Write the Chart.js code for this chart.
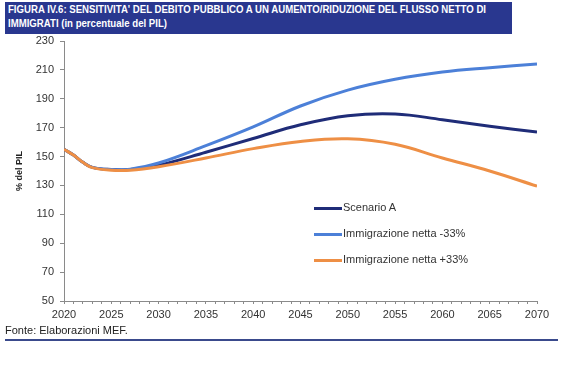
<!DOCTYPE html>
<html><head><meta charset="utf-8">
<script src="https://cdn.jsdelivr.net/npm/chart.js@4"></script>
<style>
body{margin:0;width:580px;height:366px;background:#fff;position:relative;overflow:hidden;font-family:"Liberation Sans",Arial,sans-serif;}
#banner{position:absolute;left:5px;top:2px;width:507px;height:32px;background:#29378F;}
.tl{position:absolute;left:3px;color:#fff;font-weight:bold;font-size:11.5px;white-space:nowrap;transform-origin:0 50%;line-height:13px;}
#c{position:absolute;left:0;top:0;}
#foot{position:absolute;left:5px;top:323px;font-size:11px;color:#222;line-height:14px;}
#rule{position:absolute;left:5px;top:339px;width:553px;height:2px;background:#3a4a8c;}
.li{position:absolute;left:314px;white-space:nowrap;font-size:11px;color:#333;line-height:14px;}
.li .sw{display:inline-block;width:28px;height:3px;vertical-align:middle;margin-right:1px;}
</style>
</head><body>
<div id="banner"><div class="tl" id="t1" style="top:1px">FIGURA IV.6: SENSITIVITA' DEL DEBITO PUBBLICO A UN AUMENTO/RIDUZIONE DEL FLUSSO NETTO DI</div><div class="tl" id="t2" style="top:15px">IMMIGRATI (in percentuale del PIL)</div></div>
<canvas id="c" width="580" height="366"></canvas>
<div id="legendBox"></div>
<div id="foot">Fonte: Elaborazioni MEF.</div>
<div id="rule"></div>
<script>
const years      = [2020, 2021, 2022, 2023, 2025, 2027, 2030, 2035, 2040, 2045, 2050, 2055, 2060, 2065, 2070];
const scenarioA  = [155, 151, 146, 142.5, 141, 141, 144, 153, 162.5, 172, 178.3, 179.5, 175.5, 171, 167];
const immMinus33 = [155, 151, 146, 142.5, 141, 141.3, 145.5, 157.5, 170.5, 185, 196, 203.5, 208.5, 211.5, 214];
const immPlus33  = [155, 151, 146, 142.3, 140.5, 140.5, 143, 149, 155.5, 160.5, 162.3, 158.5, 149, 140, 129.5];
const seriesNames = ['Scenario A', 'Immigrazione netta -33%', 'Immigrazione netta +33%'];
const seriesColors = ['#1F2C78', '#4C80D8', '#EE8F45'];
const yTicks = [50, 70, 90, 110, 130, 150, 170, 190, 210, 230];

// title fit
(function(){
  const t1 = document.getElementById('t1'), t2 = document.getElementById('t2');
  const w = t1.getBoundingClientRect().width;
  const s = 478 / w;
  t1.style.transform = 'scaleX(' + s + ')';
  t2.style.transform = 'scaleX(' + s + ')';
})();

const seriesData = [scenarioA, immMinus33, immPlus33];
const datasets = seriesData.map((arr, k) => ({
  label: seriesNames[k],
  data: years.map((x, i) => ({x: x, y: arr[i]})),
  borderColor: seriesColors[k],
  backgroundColor: seriesColors[k],
  borderWidth: 3,
  pointRadius: 0,
  fill: false,
  tension: 0.4,
  order: 2 - k
}));

const axisColor = '#8a8a8a';
const chart = new Chart(document.getElementById('c'), {
  type: 'line',
  data: {datasets: datasets},
  options: {
    responsive: false,
    animation: false,
    layout: {padding: {left: 0, top: 41, right: 43, bottom: 45}},
    plugins: {legend: {display: false}, tooltip: {enabled: false}},
    scales: {
      x: {
        type: 'linear', min: 2020, max: 2070,
        afterFit: s => { s.height = 20; },
        ticks: {stepSize: 1, autoSkip: false, maxRotation: 0, color: '#333', font: {size: 11, family: 'Liberation Sans'}, padding: 4,
          callback: v => (v % 5 === 0 ? String(v) : '')},
        grid: {drawOnChartArea: false, drawTicks: true, tickLength: 3, color: axisColor},
        border: {color: axisColor, width: 1}
      },
      y: {
        min: 50, max: 230,
        afterFit: s => { s.width = 64; },
        afterBuildTicks: s => { s.ticks = yTicks.map(v => ({value: v})); },
        ticks: {color: '#333', font: {size: 11, family: 'Liberation Sans'}, padding: 6},
        title: {display: true, text: '% del PIL', color: '#222', font: {size: 9, weight: 'bold', family: 'Liberation Sans'}, padding: {top: 14, bottom: 0}},
        grid: {drawOnChartArea: false, drawTicks: true, tickLength: 4, color: axisColor},
        border: {color: axisColor, width: 1}
      }
    }
  }
});

// HTML legend built from the chart's datasets
const lb = document.getElementById('legendBox');
const legendTops = [200, 226, 252];
chart.data.datasets.forEach((ds, i) => {
  const d = document.createElement('div');
  d.className = 'li';
  d.style.top = legendTops[i] + 'px';
  d.innerHTML = '<span class="sw" style="background:' + ds.borderColor + '"></span>';
  d.appendChild(document.createTextNode(ds.label));
  lb.appendChild(d);
});
</script>
</body></html>
